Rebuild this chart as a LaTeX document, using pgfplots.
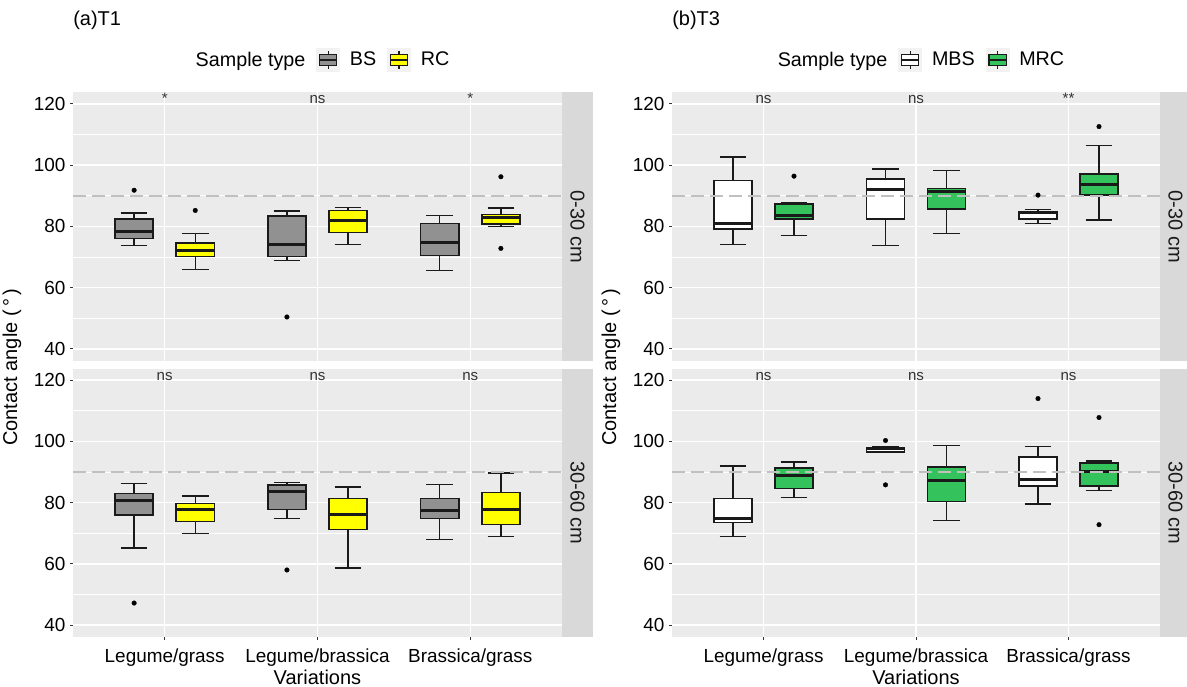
\documentclass[border=0pt]{standalone}
\usepackage{pgfplots}
\pgfplotsset{compat=1.18}
\usepgfplotslibrary{statistics}
\usepackage{fontspec}
\setmainfont{Liberation Sans}
\definecolor{panelbg}{HTML}{EBEBEB}
\definecolor{stripbg}{HTML}{D9D9D9}
\definecolor{bsgray}{HTML}{919191}
\definecolor{rcyellow}{HTML}{FFFF00}
\definecolor{mrcgreen}{HTML}{34C25C}
\definecolor{keybg}{HTML}{F2F2F2}
\definecolor{dashgray}{HTML}{C0C0C0}
\definecolor{tickgray}{HTML}{333333}
\definecolor{txt}{HTML}{1A1A1A}
\definecolor{boxline}{HTML}{1A1A1A}

\newcommand{\tickfont}{\fontsize{14.2}{16}\selectfont}
\newcommand{\titlefont}{\fontsize{15}{18}\selectfont}
\newcommand{\nsfont}{\fontsize{11.3}{13}\selectfont}

\pgfplotsset{
  panel/.style={
    scale only axis, height=201.6pt,
    xmin=0.4, xmax=3.6, ymin=36, ymax=123.8,
    axis background/.style={fill=panelbg},
    axis line style={draw=none},
    grid=both,
    major grid style={white, line width=1.1pt},
    minor grid style={white, line width=0.55pt},
    ytick={40,60,80,100,120}, minor ytick={50,70,90,110},
    xtick={1,2,3},
    tick align=outside, major tick length=2.2pt, minor tick length=0pt,
    tick style={color=tickgray, line width=0.75pt},
    ytick pos=left, xtick pos=left,
    ticklabel style={font=\tickfont, text=black},
    xticklabel style={yshift=-3pt},
    /pgf/number format/assume math mode=true,
    boxplot/draw direction=y,
  },
  toppanel/.style={panel, xticklabels={}, xtick style={draw=none}},
  botpanel/.style={panel, xticklabels={Legume/grass,Legume/brassica,Brassica/grass}},
  boxstyle/.style={draw=boxline, line width=1.1pt, mark=*, mark size=1.75pt,
    mark options={draw=black, fill=black, line width=0.2pt},
    boxplot/box extend=0.25, boxplot/whisker extend=0.175,
    boxplot/every median/.style={line width=2.2pt}, forget plot},
  keyimg/.style={legend image code/.code={
    \fill[keybg] (0pt,-8.6pt) rectangle (17.25pt,8.6pt);
    \draw[line width=0.8pt, draw=boxline] (8.6pt,4.3pt) -- (8.6pt,6.9pt) (8.6pt,-4.3pt) -- (8.6pt,-6.9pt);
    \draw[line width=0.8pt, draw=boxline, fill=#1] (2.2pt,-4.3pt) rectangle (15.05pt,4.3pt);
    \draw[line width=0.8pt, draw=boxline] (2.2pt,0pt) -- (15.05pt,0pt);
  }},
  mylegend/.style={
    legend columns=-1,
    legend cell align=left,
    legend style={at={(0.5,1.12)}, anchor=center, draw=none, fill=none,
      inner sep=0pt, outer sep=0pt, font=\fontsize{14.8}{17}\selectfont,
      nodes={inner sep=0pt},
      /tikz/every odd column/.append style={column sep=7.5pt},
      /tikz/every even column/.append style={column sep=8.25pt}},
  },
}

\newcommand{\refline}{\addplot[dashgray, line width=1.5pt, dash pattern=on 9.75pt off 4.5pt, forget plot] coordinates {(0.4,90) (3.6,90)};}
\newcommand{\sig}[2]{\node[anchor=base, font=\nsfont, text=tickgray] at (axis cs:#1,120) {#2};}

\begin{document}
\begin{tikzpicture}
\useasboundingbox (0,0) rectangle (890.25pt,514.5pt);

% ---------- (a) T1, 0-30 cm ----------
\begin{axis}[toppanel, width=366.75pt, name=lt, at={(54.75pt,243.7pt)}, anchor=south west, mylegend]
\addplot[boxstyle, fill=bsgray, boxplot prepared={draw position=0.8, lower whisker=73.8, lower quartile=76.1, median=78.3, upper quartile=82.4, upper whisker=84.3}] coordinates {(0,91.8)};
\addplot[boxstyle, fill=rcyellow, boxplot prepared={draw position=1.2, lower whisker=65.9, lower quartile=70.2, median=72.2, upper quartile=74.5, upper whisker=77.7}] coordinates {(0,85.2)};
\addplot[boxstyle, fill=bsgray, boxplot prepared={draw position=1.8, lower whisker=68.8, lower quartile=70.2, median=74.0, upper quartile=83.4, upper whisker=85.0}] coordinates {(0,50.4)};
\addplot[boxstyle, fill=rcyellow, boxplot prepared={draw position=2.2, lower whisker=74.1, lower quartile=78.0, median=81.8, upper quartile=85.2, upper whisker=86.2}] coordinates {};
\addplot[boxstyle, fill=bsgray, boxplot prepared={draw position=2.8, lower whisker=65.5, lower quartile=70.5, median=74.7, upper quartile=81.0, upper whisker=83.6}] coordinates {};
\addplot[boxstyle, fill=rcyellow, boxplot prepared={draw position=3.2, lower whisker=80.0, lower quartile=80.8, median=83.0, upper quartile=83.9, upper whisker=86.0}] coordinates {(0,96.2) (0,72.8)};
\refline
\sig{1}{*}\sig{2}{ns}\sig{3}{*}
\addlegendimage{empty legend}\addlegendentry{Sample type}
\addlegendimage{keyimg=bsgray}\addlegendentry{BS}
\addlegendimage{keyimg=rcyellow}\addlegendentry{RC}
\end{axis}

% ---------- (a) T1, 30-60 cm ----------
\begin{axis}[botpanel, width=366.75pt, name=lb, at={(54.75pt,36.5pt)}, anchor=south west]
\addplot[boxstyle, fill=bsgray, boxplot prepared={draw position=0.8, lower whisker=65.2, lower quartile=75.9, median=80.7, upper quartile=83.0, upper whisker=86.3}] coordinates {(0,47.2)};
\addplot[boxstyle, fill=rcyellow, boxplot prepared={draw position=1.2, lower whisker=69.9, lower quartile=73.8, median=77.9, upper quartile=79.7, upper whisker=82.1}] coordinates {};
\addplot[boxstyle, fill=bsgray, boxplot prepared={draw position=1.8, lower whisker=74.8, lower quartile=77.8, median=83.6, upper quartile=85.7, upper whisker=86.6}] coordinates {(0,58.0)};
\addplot[boxstyle, fill=rcyellow, boxplot prepared={draw position=2.2, lower whisker=58.7, lower quartile=71.2, median=76.1, upper quartile=81.3, upper whisker=85.1}] coordinates {};
\addplot[boxstyle, fill=bsgray, boxplot prepared={draw position=2.8, lower whisker=67.9, lower quartile=74.8, median=77.3, upper quartile=81.3, upper whisker=86.0}] coordinates {};
\addplot[boxstyle, fill=rcyellow, boxplot prepared={draw position=3.2, lower whisker=68.9, lower quartile=72.9, median=77.9, upper quartile=83.3, upper whisker=89.7}] coordinates {};
\refline
\sig{1}{ns}\sig{2}{ns}\sig{3}{ns}
\end{axis}

% ---------- (b) T3, 0-30 cm ----------
\begin{axis}[toppanel, width=366pt, name=rt, at={(504pt,243.7pt)}, anchor=south west, mylegend]
\addplot[boxstyle, fill=white, boxplot prepared={draw position=0.8, lower whisker=74.1, lower quartile=79.2, median=81.0, upper quartile=94.9, upper whisker=102.7}] coordinates {};
\addplot[boxstyle, fill=mrcgreen, boxplot prepared={draw position=1.2, lower whisker=77.1, lower quartile=82.4, median=83.5, upper quartile=87.3, upper whisker=87.6}] coordinates {(0,96.4)};
\addplot[boxstyle, fill=white, boxplot prepared={draw position=1.8, lower whisker=73.8, lower quartile=82.4, median=92.1, upper quartile=95.4, upper whisker=98.8}] coordinates {};
\addplot[boxstyle, fill=mrcgreen, boxplot prepared={draw position=2.2, lower whisker=77.7, lower quartile=85.7, median=91.4, upper quartile=92.3, upper whisker=98.2}] coordinates {};
\addplot[boxstyle, fill=white, boxplot prepared={draw position=2.8, lower whisker=81.0, lower quartile=82.4, median=84.6, upper quartile=84.9, upper whisker=85.5}] coordinates {(0,90.2)};
\addplot[boxstyle, fill=mrcgreen, boxplot prepared={draw position=3.2, lower whisker=82.1, lower quartile=90.2, median=93.7, upper quartile=97.1, upper whisker=106.4}] coordinates {(0,112.6)};
\refline
\sig{1}{ns}\sig{2}{ns}\sig{3}{**}
\addlegendimage{empty legend}\addlegendentry{Sample type}
\addlegendimage{keyimg=white}\addlegendentry{MBS}
\addlegendimage{keyimg=mrcgreen}\addlegendentry{MRC}
\end{axis}

% ---------- (b) T3, 30-60 cm ----------
\begin{axis}[botpanel, width=366pt, name=rb, at={(504pt,36.5pt)}, anchor=south west]
\addplot[boxstyle, fill=white, boxplot prepared={draw position=0.8, lower whisker=68.9, lower quartile=73.5, median=74.7, upper quartile=81.4, upper whisker=92.0}] coordinates {};
\addplot[boxstyle, fill=mrcgreen, boxplot prepared={draw position=1.2, lower whisker=81.7, lower quartile=84.7, median=88.9, upper quartile=91.3, upper whisker=93.3}] coordinates {};
\addplot[boxstyle, fill=white, boxplot prepared={draw position=1.8, lower whisker=96.5, lower quartile=96.5, median=97.7, upper quartile=98.0, upper whisker=98.3}] coordinates {(0,100.3) (0,85.8)};
\addplot[boxstyle, fill=mrcgreen, boxplot prepared={draw position=2.2, lower whisker=74.1, lower quartile=80.4, median=87.3, upper quartile=91.6, upper whisker=98.6}] coordinates {};
\addplot[boxstyle, fill=white, boxplot prepared={draw position=2.8, lower whisker=79.5, lower quartile=85.4, median=87.6, upper quartile=94.9, upper whisker=98.3}] coordinates {(0,114.0)};
\addplot[boxstyle, fill=mrcgreen, boxplot prepared={draw position=3.2, lower whisker=84.0, lower quartile=85.4, median=90.3, upper quartile=92.9, upper whisker=93.6}] coordinates {(0,107.8) (0,72.8)};
\refline
\sig{1}{ns}\sig{2}{ns}\sig{3}{ns}
\end{axis}

% ---------- strips ----------
\foreach \ax/\lab in {lt/0-30 cm, lb/30-60 cm, rt/0-30 cm, rb/30-60 cm}{
  \fill[stripbg] (\ax.north east) rectangle ([xshift=23.25pt]\ax.south east);
  \path (\ax.north east) -- ([xshift=23.25pt]\ax.south east)
    node[midway, rotate=-90, font=\titlefont, text=txt, inner sep=0pt] {\lab};
}

% ---------- titles and axis titles ----------
\node[anchor=base west, font=\titlefont, inner sep=0pt] at (54.75pt,495.2pt) {(a)T1};
\node[anchor=base west, font=\titlefont, inner sep=0pt] at (504pt,495.2pt) {(b)T3};
\node[rotate=90, font=\titlefont, inner sep=0pt] at (9pt,239pt) {Contact angle (\,°\,)};
\node[rotate=90, font=\titlefont, inner sep=0pt] at (458.25pt,239pt) {Contact angle (\,°\,)};
\node[anchor=base, font=\titlefont, inner sep=0pt] at (238.1pt,1.5pt) {Variations};
\node[anchor=base, font=\titlefont, inner sep=0pt] at (687pt,1.5pt) {Variations};
\end{tikzpicture}
\end{document}
